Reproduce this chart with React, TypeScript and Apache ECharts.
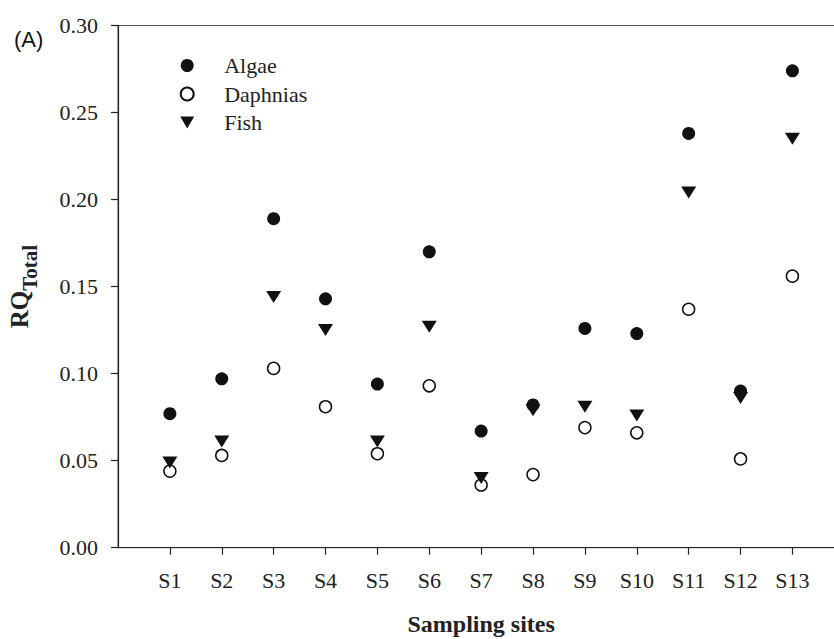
import React, { useEffect, useRef } from "react";
import * as echarts from "echarts";

const sites = ["S1", "S2", "S3", "S4", "S5", "S6", "S7", "S8", "S9", "S10", "S11", "S12", "S13"];
const algae = [0.077, 0.097, 0.189, 0.143, 0.094, 0.170, 0.067, 0.082, 0.126, 0.123, 0.238, 0.090, 0.274];
const daphnias = [0.044, 0.053, 0.103, 0.081, 0.054, 0.093, 0.036, 0.042, 0.069, 0.066, 0.137, 0.051, 0.156];
const fish = [0.049, 0.061, 0.144, 0.125, 0.061, 0.127, 0.040, 0.079, 0.081, 0.076, 0.204, 0.086, 0.235];

const SERIF = "'Liberation Serif', 'Times New Roman', serif";

export default function App() {
  const ref = useRef<HTMLDivElement>(null);
  useEffect(() => {
    if (!ref.current) return;
    const chart = echarts.init(ref.current, undefined, { renderer: "svg" });
    const cats = ["", ...sites, ""];
    const pairs = (vals: number[]) => sites.map((s, i) => [s, vals[i]]);
    chart.setOption({
      animation: false,
      backgroundColor: "#fff",
      textStyle: { fontFamily: SERIF, color: "#222" },
      grid: {
        left: 118,
        top: 25.5,
        right: 25.7,
        bottom: 91.3,
        outerBoundsMode: "none",
        containLabel: false,
        show: true,
        borderColor: "#555",
        borderWidth: 1,
      },
      graphic: [
        {
          type: "text",
          left: 14,
          top: 28,
          style: {
            text: "(A)",
            fontFamily: "'Liberation Sans', Arial, sans-serif",
            fontSize: 22,
            fill: "#111",
          },
        },
      ],
      legend: {
        orient: "vertical",
        left: 174.7,
        top: 49.5,
        itemWidth: 14,
        itemHeight: 13,
        itemGap: 6.5,
        data: [
          { name: "Algae" },
          { name: "Daphnias" },
          { name: "Fish", icon: "path://M0,0 L10,0 L5,8.5 Z" },
        ],
        textStyle: {
          fontFamily: SERIF,
          fontSize: 22,
          lineHeight: 21,
          color: "#222",
          padding: [0, 0, 0, 25],
        },
      },
      xAxis: {
        type: "category",
        data: cats,
        boundaryGap: false,
        name: "Sampling sites",
        nameLocation: "middle",
        nameGap: 64,
        nameTextStyle: { fontFamily: SERIF, fontSize: 24, fontWeight: "bold", color: "#222" },
        axisLine: { lineStyle: { color: "#222", width: 1.2 } },
        axisTick: {
          show: true,
          inside: false,
          length: 7,
          interval: (index: number, value: string) => value !== "",
          lineStyle: { color: "#222", width: 1.2 },
        },
        axisLabel: {
          interval: 0,
          margin: 22,
          fontFamily: SERIF,
          fontSize: 22,
          color: "#222",
        },
        splitLine: { show: false },
      },
      yAxis: {
        type: "value",
        min: 0,
        max: 0.3,
        interval: 0.05,
        name: "{a|RQ}{b|Total}",
        nameLocation: "middle",
        nameGap: 78,
        nameTextStyle: {
          fontFamily: SERIF,
          fontWeight: "bold",
          color: "#222",
          rich: {
            a: { fontFamily: SERIF, fontWeight: "bold", fontSize: 25, color: "#222", lineHeight: 26, verticalAlign: "top" },
            b: { fontFamily: SERIF, fontWeight: "bold", fontSize: 21, color: "#222", lineHeight: 33, verticalAlign: "bottom" },
          },
        },
        axisLine: { show: true, lineStyle: { color: "#222", width: 1.2 } },
        axisTick: { show: true, inside: false, length: 7, lineStyle: { color: "#222", width: 1.2 } },
        axisLabel: {
          margin: 20,
          fontFamily: SERIF,
          fontSize: 22,
          color: "#222",
          formatter: (v: number) => v.toFixed(2),
        },
        splitLine: { show: false },
      },
      series: [
        {
          name: "Algae",
          type: "scatter",
          data: pairs(algae),
          symbol: "circle",
          symbolSize: 13,
          itemStyle: { color: "#111", opacity: 1 },
        },
        {
          name: "Daphnias",
          type: "scatter",
          data: pairs(daphnias),
          symbol: "circle",
          symbolSize: 12,
          itemStyle: { color: "#fff", borderColor: "#111", borderWidth: 1.5, opacity: 1 },
        },
        {
          name: "Fish",
          type: "scatter",
          data: pairs(fish),
          symbol: "triangle",
          symbolRotate: 180,
          symbolSize: [15, 12],
          itemStyle: { color: "#111", opacity: 1 },
        },
      ],
    });
    return () => chart.dispose();
  }, []);
  return (
    <div style={{ position: "absolute", left: 0, top: 0, width: 834, height: 639, overflow: "hidden", background: "#fff" }}>
      <div ref={ref} style={{ width: 870, height: 639 }} />
    </div>
  );
}
